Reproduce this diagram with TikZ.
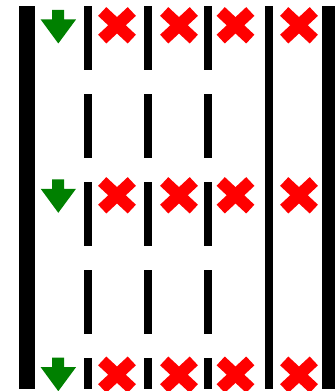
\documentclass[tikz,border=0pt]{standalone}
\usetikzlibrary{calc}
\definecolor{okgreen}{RGB}{0,128,0}
\definecolor{nored}{RGB}{255,0,0}
\tikzset{
  barfill/.style={fill=black},
  xstroke/.style={draw=nored, line width=12*0.75pt, line cap=butt},
  arrowfill/.style={fill=okgreen},
}
\begin{document}
\begin{tikzpicture}[x=0.75pt,y=-0.75pt]
\useasboundingbox (0,0) rectangle (335,391);
% thick outer bars
\fill[barfill] (19,6) rectangle (35,389);
\fill[barfill] (322,6) rectangle (335,389);
% solid inner bar
\fill[barfill] (265,6) rectangle (273,389);
% dashed bars
\foreach \bx in {84,144,204}{
  \foreach \ya/\yb in {6/70,94/158,182/246,270/334,358/389}{
    \fill[barfill] (\bx,\ya) rectangle ({\bx+7.7},\yb);
  }
}
% green arrows
\foreach \t in {10,179.3,357.7}{
  \fill[arrowfill] (52,\t) -- (64,\t) -- (64,{\t+9.5}) -- (76,{\t+9.5})
    -- (58.3,{\t+33.5}) -- (40.7,{\t+9.5}) -- (52,{\t+9.5}) -- cycle;
}
% red crosses
\foreach \cy in {25.3,195.3,374.7}{
  \foreach \cx in {117,179,235.5,299}{
    \draw[xstroke] ({\cx-14.8},{\cy-13.8}) -- ({\cx+14.8},{\cy+13.8});
    \draw[xstroke] ({\cx-14.8},{\cy+13.8}) -- ({\cx+14.8},{\cy-13.8});
  }
}
\end{tikzpicture}
\end{document}
